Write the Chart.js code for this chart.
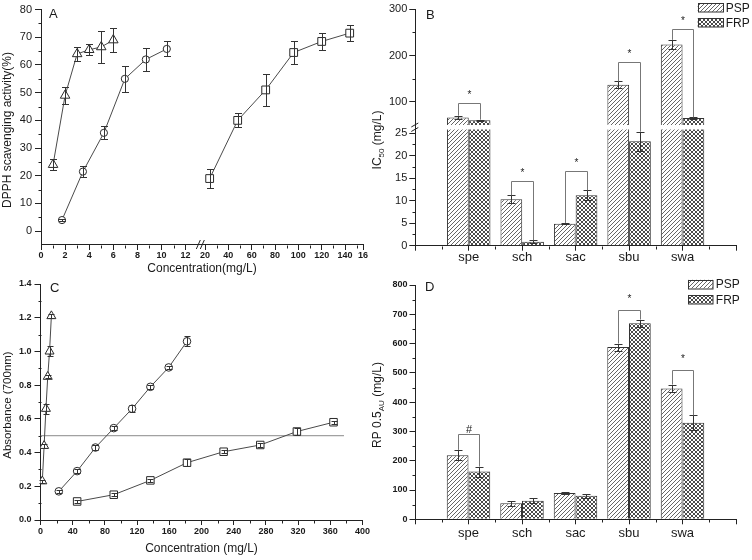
<!DOCTYPE html>
<html><head><meta charset="utf-8">
<script src="https://cdn.jsdelivr.net/npm/chart.js"></script>
<style>
html,body{margin:0;padding:0;background:#fff;}
#wrap{position:relative;width:752px;height:560px;overflow:hidden;background:#fff;}
#wrap canvas{position:absolute;left:0;top:0;}
</style></head><body>
<div id="wrap">
<canvas id="cA" width="752" height="560"></canvas>
<canvas id="cC" width="752" height="560"></canvas>
<canvas id="cB" width="752" height="560"></canvas>
<canvas id="cD" width="752" height="560"></canvas>
</div>
<script>
// ================= DATA =================
// Panel A: DPPH scavenging activity (%) vs concentration (mg/L)
const aTriX = [1, 2, 3, 4, 5, 6];
const aTriY = [24, 49, 64, 65.5, 66.5, 69];
const aTriErr = [2, 3, 2.5, 2, 5.7, 4.3];
const aCirX = [1.74, 3.48, 5.22, 6.96, 8.7, 10.44];
const aCirY = [4, 21.5, 35.5, 55, 62, 65.8];
const aCirErr = [0.3, 2, 2.3, 4.6, 4.3, 2.7];
const aSqX = [24, 48, 72, 96, 120, 144];
const aSqY = [19, 40, 51, 64.5, 68.5, 71.5];
const aSqErr = [3.5, 2.5, 5.7, 4.3, 3.2, 2.8];
const aXTicks = [0, 2, 4, 6, 8, 10, 12, 20, 40, 60, 80, 100, 120, 140, 155.4];
const aXTickLabels = ['0', '2', '4', '6', '8', '10', '12', '20', '40', '60', '80', '100', '120', '140', '16'];
const aXMinor = [1, 3, 5, 7, 9, 11, 30, 50, 70, 90, 110, 130, 150];
const aYTicks = [0, 10, 20, 30, 40, 50, 60, 70, 80];
const aYMinor = [5, 15, 25, 35, 45, 55, 65, 75];

// Panel B: IC50 (mg/L)
const categories = ['spe', 'sch', 'sac', 'sbu', 'swa'];
const seriesNames = ['PSP', 'FRP'];
const bPSP = [66, 10.3, 4.9, 137, 224];
const bPSPErr = [4, 0.9, 0.15, 7, 10];
const bFRP = [60, 0.9, 11.2, 23.2, 65];
const bFRPErr = [1.5, 0.3, 1.1, 2.1, 1.5];
const bSigTop = [98, 14.4, 16.6, 186, 257];
const bSigMark = ['*', '*', '*', '*', '*'];
const bYTicks = [0, 5, 10, 15, 20, 25, 100, 200, 300];
const bYMinor = [2.5, 7.5, 12.5, 17.5, 22.5, 150, 250];

// Panel C: Absorbance (700nm) vs concentration (mg/L)
const cTriX = [2.25, 4.5, 6.75, 9, 11.25, 13.5];
const cTriY = [0.23, 0.44, 0.66, 0.85, 1.0, 1.21];
const cTriErr = [0.01, 0.01, 0.03, 0.01, 0.03, 0.01];
const cCirX = [22.75, 45.5, 68.25, 91, 113.75, 136.5, 159.25, 182];
const cCirY = [0.17, 0.29, 0.43, 0.545, 0.66, 0.79, 0.905, 1.06];
const cCirErr = [0.01, 0.01, 0.015, 0.01, 0.02, 0.01, 0.01, 0.03];
const cSqX = [45.5, 91, 136.5, 182, 227.5, 273, 318.5, 364];
const cSqY = [0.11, 0.15, 0.235, 0.34, 0.405, 0.445, 0.525, 0.58];
const cSqErr = [0.01, 0.01, 0.01, 0.02, 0.01, 0.01, 0.02, 0.01];
const cRefX = [0, 377];
const cRefY = [0.5, 0.5];
const cXTicks = [0, 40, 80, 120, 160, 200, 240, 280, 320, 360, 400];
const cXMinor = [20, 60, 100, 140, 180, 220, 260, 300, 340, 380];
const cYTicks = [0, 0.2, 0.4, 0.6, 0.8, 1.0, 1.2, 1.4];
const cYMinor = [0.1, 0.3, 0.5, 0.7, 0.9, 1.1, 1.3];

// Panel D: RP 0.5AU (mg/L)
const dPSP = [219, 55, 90, 588, 447];
const dPSPErr = [18, 8, 3, 12, 13];
const dFRP = [163, 63, 80, 669, 330];
const dFRPErr = [17, 9, 8, 13, 25];
const dSigTop = [290, null, null, 715, 511];
const dSigMark = ['#', '', '', '*', '*'];
const dYTicks = [0, 100, 200, 300, 400, 500, 600, 700, 800];
const dYMinor = [50, 150, 250, 350, 450, 550, 650, 750];
const barMinor = [0.5, 1.5, 2.5, 3.5, 4.5, 5.5];

// ================= SETUP =================
const FONT = '"Liberation Sans", Arial, Helvetica, sans-serif';
const INK = '#1a1a1a';
const AXIS = '#222';
Chart.defaults.font.family = FONT;
Chart.defaults.color = INK;
Chart.defaults.animation = false;
Chart.defaults.events = [];
Chart.defaults.plugins.legend.display = false;
Chart.defaults.plugins.tooltip.enabled = false;

// Linear scale with a broken (piecewise) mapping
class BrokenScale extends Chart.LinearScale {
  static id = 'broken';
  getPixelForValue(value) {
    if (value === null || value === undefined || isNaN(value)) return NaN;
    const segs = this.options.segments;
    let s = segs[0];
    for (let k = 1; k < segs.length; k++) if (value >= segs[k].from) s = segs[k];
    const t = (value - s.from) / (s.to - s.from);
    return this.getPixelForDecimal(s.start + t * (s.end - s.start));
  }
  getValueForPixel(pixel) {
    const dec = this.getDecimalForPixel(pixel);
    const segs = this.options.segments;
    let s = segs[0];
    for (let k = 1; k < segs.length; k++) if (dec >= segs[k].start) s = segs[k];
    return s.from + (dec - s.start) / (s.end - s.start) * (s.to - s.from);
  }
}
Chart.register(BrokenScale);

function pairs(xs, ys) { return xs.map((x, i) => ({ x: x, y: ys[i] })); }
function setTicks(list) { return (scale) => { scale.ticks = list.map(v => ({ value: v })); }; }

function makePattern(kind) {
  const c = document.createElement('canvas');
  c.width = 4; c.height = 4;
  const g = c.getContext('2d');
  g.fillStyle = '#fff'; g.fillRect(0, 0, 4, 4);
  g.fillStyle = kind === 'hatch' ? '#666' : '#4a4a4a';
  for (let i = 0; i < 4; i++) {
    g.fillRect(i, 3 - i, 1, 1);
    if (kind === 'cross') g.fillRect(i, i, 1, 1);
  }
  return g.createPattern(c, 'repeat');
}
const hatchPSP = makePattern('hatch');
const crossFRP = makePattern('cross');

// ---------- plugins ----------
function errPlugin(cap) {
  return { id: 'errBars', afterDatasetsDraw(chart) {
    const ctx = chart.ctx;
    ctx.save(); ctx.strokeStyle = '#333'; ctx.lineWidth = 1;
    chart.data.datasets.forEach((ds, di) => {
      if (!ds.errorValues) return;
      const meta = chart.getDatasetMeta(di);
      const ys = chart.scales[meta.yAxisID];
      meta.data.forEach((el, i) => {
        const e = ds.errorValues[i], d = ds.data[i];
        if (e == null || d == null) return;
        const v = typeof d === 'object' ? d.y : d;
        const x = Math.round(el.x) + 0.5;
        const yt = Math.round(ys.getPixelForValue(v + e)) + 0.5;
        const yb = Math.round(ys.getPixelForValue(v - e)) + 0.5;
        ctx.beginPath();
        ctx.moveTo(x, yt); ctx.lineTo(x, yb);
        ctx.moveTo(x - cap, yt); ctx.lineTo(x + cap, yt);
        ctx.moveTo(x - cap, yb); ctx.lineTo(x + cap, yb);
        ctx.stroke();
      });
    });
    ctx.restore();
  }};
}

function minorPlugin(xVals, yVals, len) {
  return { id: 'minorTicks', afterDraw(chart) {
    const ctx = chart.ctx, a = chart.chartArea, xs = chart.scales.x, ys = chart.scales.y;
    ctx.save(); ctx.strokeStyle = AXIS; ctx.lineWidth = 1; ctx.beginPath();
    const by = Math.round(a.bottom) + 0.5, lx = Math.round(a.left) + 0.5;
    xVals.forEach(v => { const p = Math.round(xs.getPixelForValue(v)) + 0.5; ctx.moveTo(p, by); ctx.lineTo(p, by + len); });
    yVals.forEach(v => { const p = Math.round(ys.getPixelForValue(v)) + 0.5; ctx.moveTo(lx, p); ctx.lineTo(lx - len, p); });
    ctx.stroke(); ctx.restore();
  }};
}

function letterPlugin(text, x, y) {
  return { id: 'panelLetter', afterDraw(chart) {
    const ctx = chart.ctx; ctx.save();
    ctx.fillStyle = INK; ctx.font = '13px ' + FONT; ctx.textAlign = 'left'; ctx.textBaseline = 'middle';
    ctx.fillText(text, x, y); ctx.restore();
  }};
}

function titlePlugin(parts, x, y, size, subSize) {
  return { id: 'yTitle', afterDraw(chart) {
    const ctx = chart.ctx; ctx.save();
    ctx.translate(x, y); ctx.rotate(-Math.PI / 2);
    const big = size + 'px ' + FONT, small = subSize + 'px ' + FONT;
    let total = 0;
    const ws = parts.map(p => { ctx.font = p.sub ? small : big; const w = ctx.measureText(p.text).width; total += w; return w; });
    let cx = -total / 2;
    ctx.fillStyle = INK; ctx.textBaseline = 'middle'; ctx.textAlign = 'left';
    parts.forEach((p, i) => { ctx.font = p.sub ? small : big; ctx.fillText(p.text, cx, p.sub ? size * 0.35 : 0); cx += ws[i]; });
    ctx.restore();
  }};
}

function legendPlugin(x, y, dy, bw, bh) {
  return { id: 'boxLegend', afterDraw(chart) {
    const ctx = chart.ctx; ctx.save();
    chart.data.datasets.forEach((ds, i) => {
      const yy = y + i * dy;
      ctx.fillStyle = ds.backgroundColor; ctx.fillRect(x, yy, bw, bh);
      ctx.strokeStyle = '#333'; ctx.lineWidth = 1; ctx.strokeRect(Math.round(x) + 0.5, Math.round(yy) + 0.5, bw, bh);
      ctx.fillStyle = INK; ctx.font = '12px ' + FONT; ctx.textAlign = 'left'; ctx.textBaseline = 'middle';
      ctx.fillText(ds.label, x + bw + 3, yy + bh / 2 + 1);
    });
    ctx.restore();
  }};
}

function sigPlugin(tops, marks, gaps) {
  return { id: 'sigBrackets', afterDatasetsDraw(chart) {
    const ctx = chart.ctx, ys = chart.scales.y;
    const d0 = chart.data.datasets[0], d1 = chart.data.datasets[1];
    const m0 = chart.getDatasetMeta(0), m1 = chart.getDatasetMeta(1);
    ctx.save(); ctx.strokeStyle = '#777'; ctx.lineWidth = 1;
    tops.forEach((t, k) => {
      if (t == null) return;
      const i = k + 1;
      const x0 = Math.round(m0.data[i].x) + 0.5, x1 = Math.round(m1.data[i].x) + 0.5;
      const y0 = ys.getPixelForValue(d0.data[i] + d0.errorValues[i]);
      const y1 = ys.getPixelForValue(d1.data[i] + d1.errorValues[i]);
      const yt = Math.round(ys.getPixelForValue(t)) + 0.5;
      ctx.beginPath(); ctx.moveTo(x0, y0); ctx.lineTo(x0, yt); ctx.lineTo(x1, yt); ctx.lineTo(x1, y1); ctx.stroke();
      const mk = marks[k];
      ctx.fillStyle = INK; ctx.textAlign = 'center'; ctx.textBaseline = 'middle';
      ctx.font = (mk === '#' ? '11px ' : '10px ') + FONT;
      ctx.fillText(mk, (x0 + x1) / 2, yt - gaps[mk]);
    });
    ctx.restore();
  }};
}

function xBreakPlugin(fromV, toV) {
  return { id: 'xBreak', afterDraw(chart) {
    const ctx = chart.ctx, xs = chart.scales.x, a = chart.chartArea;
    const c = (xs.getPixelForValue(fromV) + xs.getPixelForValue(toV)) / 2;
    const y = a.bottom;
    ctx.save(); ctx.strokeStyle = AXIS; ctx.lineWidth = 1; ctx.beginPath();
    ctx.moveTo(c - 5, y + 4); ctx.lineTo(c - 1, y - 5);
    ctx.moveTo(c - 1, y + 4); ctx.lineTo(c + 3, y - 5);
    ctx.stroke(); ctx.restore();
  }};
}

function yBreakPlugin(fromV, toV) {
  return { id: 'yBreak', afterDatasetsDraw(chart) {
    const ctx = chart.ctx, ys = chart.scales.y, a = chart.chartArea;
    const p1 = ys.getPixelForValue(fromV), p2 = ys.getPixelForValue(toV);
    ctx.save(); ctx.fillStyle = '#fff';
    ctx.fillRect(a.left + 1, p2, a.right - a.left, p1 - p2);
    ctx.strokeStyle = AXIS; ctx.lineWidth = 1; ctx.beginPath();
    const lx = a.left;
    [p2, p1].forEach(p => { ctx.moveTo(lx - 4, p + 2); ctx.lineTo(lx + 3, p - 2); });
    ctx.stroke(); ctx.restore();
  }};
}

const markerStyle = { showLine: true, borderColor: '#4a4a4a', borderWidth: 1, pointBackgroundColor: '#fff',
  pointBorderColor: '#2a2a2a', pointBorderWidth: 1, tension: 0 };

function axisX(extra) {
  return Object.assign({
    border: { color: AXIS, width: 1 },
    grid: { drawOnChartArea: false, tickLength: 5, color: AXIS, offset: false }
  }, extra);
}

// ================= PANEL A =================
new Chart(document.getElementById('cA'), {
  type: 'scatter',
  data: { datasets: [
    Object.assign({ label: 'triangle', data: pairs(aTriX, aTriY), pointStyle: 'triangle', pointRadius: 5.5, errorValues: aTriErr }, markerStyle),
    Object.assign({ label: 'circle', data: pairs(aCirX, aCirY), pointStyle: 'circle', pointRadius: 3.6, errorValues: aCirErr }, markerStyle),
    Object.assign({ label: 'square', data: pairs(aSqX, aSqY), pointStyle: 'rect', pointRadius: 5.5, errorValues: aSqErr }, markerStyle)
  ]},
  options: {
    responsive: false, devicePixelRatio: 1,
    layout: { padding: { left: 0, top: 9.3, right: 389, bottom: 284 } },
    scales: {
      x: axisX({ type: 'broken', min: 0, max: 155.4,
        segments: [ { from: 0, to: 13, start: 0, end: 0.48649 }, { from: 20, to: 155.4, start: 0.50932, end: 1 } ],
        afterBuildTicks: setTicks(aXTicks),
        ticks: { callback: (v, i) => aXTickLabels[i], font: { size: 9, weight: 'bold' }, padding: 0, autoSkip: false, maxRotation: 0, color: INK },
        title: { display: true, text: 'Concentration(mg/L)', font: { size: 12 }, padding: { top: 0, bottom: 0.5 }, color: INK },
        afterFit: s => { s.height = 31; } }),
      y: { type: 'linear', min: -5, max: 80,
        afterBuildTicks: setTicks(aYTicks),
        border: { color: AXIS, width: 1 },
        grid: { drawOnChartArea: false, tickLength: 6, color: AXIS },
        ticks: { font: { size: 11 }, padding: 3, color: INK, callback: v => String(v) },
        afterFit: s => { s.width = 41; } }
    }
  },
  plugins: [errPlugin(3.5), minorPlugin(aXMinor, aYMinor, 3), xBreakPlugin(13, 20), letterPlugin('A', 49, 14),
    titlePlugin([{ text: 'DPPH scavenging activity(%)' }], 8, 130, 12, 8)]
});

// ================= PANEL B =================
new Chart(document.getElementById('cB'), {
  type: 'bar',
  data: {
    labels: [''].concat(categories, ['']),
    datasets: [
      { label: seriesNames[0], data: [null].concat(bPSP, [null]), errorValues: [null].concat(bPSPErr, [null]),
        backgroundColor: hatchPSP, borderColor: '#333', borderWidth: 1 },
      { label: seriesNames[1], data: [null].concat(bFRP, [null]), errorValues: [null].concat(bFRPErr, [null]),
        backgroundColor: crossFRP, borderColor: '#333', borderWidth: 1 }
    ]
  },
  options: {
    responsive: false, devicePixelRatio: 1,
    datasets: { bar: { categoryPercentage: 0.8125, barPercentage: 1 } },
    layout: { padding: { left: 375.3, top: 9.3, right: 16, bottom: 280 } },
    scales: {
      x: axisX({ type: 'category', offset: false,
        ticks: { font: { size: 13 }, padding: -1, autoSkip: false, maxRotation: 0, color: INK },
        afterFit: s => { s.height = 34.3; } }),
      y: { type: 'broken', min: 0, max: 300,
        segments: [ { from: 0, to: 25.8, start: 0, end: 0.49154 }, { from: 50, to: 300, start: 0.51058, end: 1 } ],
        afterBuildTicks: setTicks(bYTicks),
        border: { color: AXIS, width: 1 },
        grid: { drawOnChartArea: false, tickLength: 6, color: AXIS },
        ticks: { font: { size: 11 }, padding: 2, color: INK, callback: v => String(v) },
        afterFit: s => { s.width = 40; } }
    }
  },
  plugins: [errPlugin(4), yBreakPlugin(25.8, 50), sigPlugin(bSigTop, bSigMark, { '*': 8, '#': 5 }),
    minorPlugin(barMinor, bYMinor, 3), legendPlugin(697.7, 3.3, 15, 25, 8.5), letterPlugin('B', 426, 15),
    titlePlugin([{ text: 'IC' }, { text: '50', sub: true }, { text: ' (mg/L)' }], 377.5, 140, 12, 8)]
});

// ================= PANEL C =================
new Chart(document.getElementById('cC'), {
  type: 'scatter',
  data: { datasets: [
    Object.assign({ label: 'triangle', data: pairs(cTriX, cTriY), pointStyle: 'triangle', pointRadius: 5.2, errorValues: cTriErr }, markerStyle),
    Object.assign({ label: 'circle', data: pairs(cCirX, cCirY), pointStyle: 'circle', pointRadius: 3.8, errorValues: cCirErr }, markerStyle),
    Object.assign({ label: 'square', data: pairs(cSqX, cSqY), pointStyle: 'rect', pointRadius: 5.3, errorValues: cSqErr }, markerStyle),
    { label: 'A0.5', data: pairs(cRefX, cRefY), showLine: true, pointRadius: 0, borderColor: '#8a8a8a', borderWidth: 1 }
  ]},
  options: {
    responsive: false, devicePixelRatio: 1,
    layout: { padding: { left: 0, top: 284, right: 389.5, bottom: 4 } },
    scales: {
      x: axisX({ type: 'linear', min: 0, max: 400,
        afterBuildTicks: setTicks(cXTicks),
        ticks: { font: { size: 9, weight: 'bold' }, padding: 1, autoSkip: false, maxRotation: 0, color: INK, callback: v => String(v) },
        title: { display: true, text: 'Concentration (mg/L)', font: { size: 12 }, padding: { top: 0, bottom: 0.5 }, color: INK },
        afterFit: s => { s.height = 36; } }),
      y: { type: 'linear', min: 0, max: 1.4,
        afterBuildTicks: setTicks(cYTicks),
        border: { color: AXIS, width: 1 },
        grid: { drawOnChartArea: false, tickLength: 6, color: AXIS },
        ticks: { font: { size: 9, weight: 'bold' }, padding: 3, color: INK, callback: v => v.toFixed(1) },
        afterFit: s => { s.width = 40.5; } }
    }
  },
  plugins: [errPlugin(3), minorPlugin(cXMinor, cYMinor, 3), letterPlugin('C', 50, 288),
    titlePlugin([{ text: 'Absorbance (700nm)' }], 7.5, 405, 11.5, 8)]
});

// ================= PANEL D =================
new Chart(document.getElementById('cD'), {
  type: 'bar',
  data: {
    labels: [''].concat(categories, ['']),
    datasets: [
      { label: seriesNames[0], data: [null].concat(dPSP, [null]), errorValues: [null].concat(dPSPErr, [null]),
        backgroundColor: hatchPSP, borderColor: '#333', borderWidth: 1 },
      { label: seriesNames[1], data: [null].concat(dFRP, [null]), errorValues: [null].concat(dFRPErr, [null]),
        backgroundColor: crossFRP, borderColor: '#333', borderWidth: 1 }
    ]
  },
  options: {
    responsive: false, devicePixelRatio: 1,
    datasets: { bar: { categoryPercentage: 0.8125, barPercentage: 1 } },
    layout: { padding: { left: 375, top: 285, right: 16, bottom: 10.7 } },
    scales: {
      x: axisX({ type: 'category', offset: false,
        ticks: { font: { size: 13 }, padding: 1, autoSkip: false, maxRotation: 0, color: INK },
        afterFit: s => { s.height = 30; } }),
      y: { type: 'linear', min: 0, max: 800,
        afterBuildTicks: setTicks(dYTicks),
        border: { color: AXIS, width: 1 },
        grid: { drawOnChartArea: false, tickLength: 5.5, color: AXIS },
        ticks: { font: { size: 9, weight: 'bold' }, padding: 2, color: INK, callback: v => String(v) },
        afterFit: s => { s.width = 40; } }
    }
  },
  plugins: [errPlugin(4), sigPlugin(dSigTop, dSigMark, { '*': 11, '#': 5 }),
    minorPlugin(barMinor, dYMinor, 3), legendPlugin(688.3, 279.8, 15.2, 24.5, 8.5), letterPlugin('D', 425, 287),
    titlePlugin([{ text: 'RP 0.5' }, { text: 'AU', sub: true }, { text: ' (mg/L)' }], 377.5, 405, 12, 8)]
});
</script>
</body></html>
